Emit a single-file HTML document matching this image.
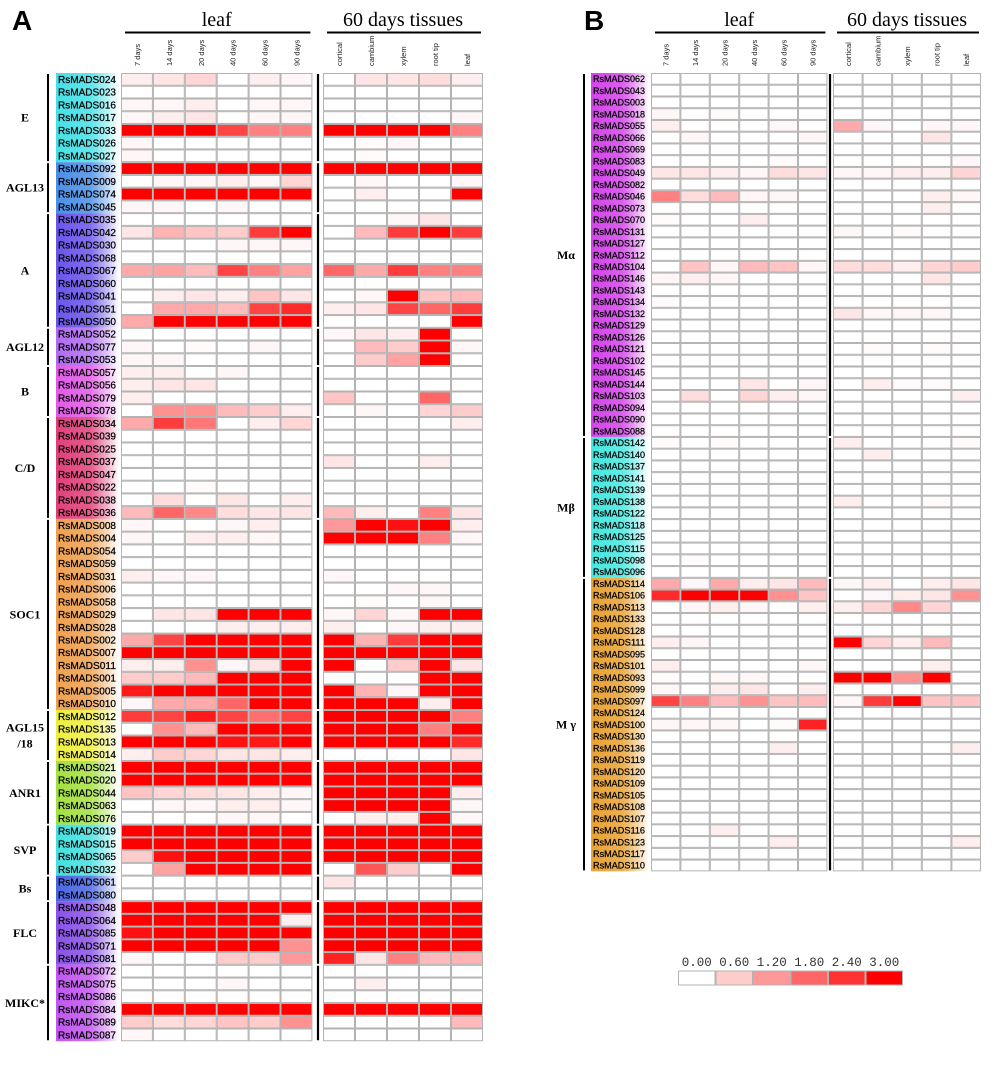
<!DOCTYPE html>
<html><head><meta charset="utf-8"><style>
html,body{margin:0;padding:0;background:#fff;}
svg{display:block;}
</style></head><body>
<svg id="fig" width="1000" height="1070" viewBox="0 0 1000 1070" xmlns="http://www.w3.org/2000/svg">
<rect x="0" y="0" width="1000" height="1070" fill="#fff"/>
<text x="12" y="30" font-family="Liberation Sans, sans-serif" font-weight="bold" font-size="28">A</text>
<text x="584" y="30" font-family="Liberation Sans, sans-serif" font-weight="bold" font-size="28">B</text>
</svg>
<script>
const colsLeaf=['7 days','14 days','20 days','40 days','60 days','90 days'];
const colsTissue=['cortical','cambium','xylem','root tip','leaf'];
const groupsA=[['E',7,'#45e0e6'],['AGL13',4,'#4a8fe6'],['A',9,'#6a55ea'],['AGL12',3,'#b06cf0'],['B',4,'#e05ae6'],['C/D',8,'#e0407a'],['SOC1',15,'#eea050'],['AGL15\n/18',4,'#eeee40'],['ANR1',5,'#a4e040'],['SVP',4,'#44e0e0'],['Bs',2,'#4a66e0'],['FLC',5,'#8a52e6'],['MIKC*',6,'#c256f0']];
const genesA=['RsMADS024','RsMADS023','RsMADS016','RsMADS017','RsMADS033','RsMADS026','RsMADS027','RsMADS092','RsMADS009','RsMADS074','RsMADS045','RsMADS035','RsMADS042','RsMADS030','RsMADS068','RsMADS067','RsMADS060','RsMADS041','RsMADS051','RsMADS050','RsMADS052','RsMADS077','RsMADS053','RsMADS057','RsMADS056','RsMADS079','RsMADS078','RsMADS034','RsMADS039','RsMADS025','RsMADS037','RsMADS047','RsMADS022','RsMADS038','RsMADS036','RsMADS008','RsMADS004','RsMADS054','RsMADS059','RsMADS031','RsMADS006','RsMADS058','RsMADS029','RsMADS028','RsMADS002','RsMADS007','RsMADS011','RsMADS001','RsMADS005','RsMADS010','RsMADS012','RsMADS135','RsMADS013','RsMADS014','RsMADS021','RsMADS020','RsMADS044','RsMADS063','RsMADS076','RsMADS019','RsMADS015','RsMADS065','RsMADS032','RsMADS061','RsMADS080','RsMADS048','RsMADS064','RsMADS085','RsMADS071','RsMADS081','RsMADS072','RsMADS075','RsMADS086','RsMADS084','RsMADS089','RsMADS087'];
const valuesA=[
[.2,.3,.5,0,.2,.1,0,.3,.3,.4,.2],[0,0,0,0,0,0,0,0,0,0,0],[.1,.1,.2,0,.1,.1,0,0,0,0,0],[.1,.2,.3,0,.1,.1,0,0,0,0,.1],
[3,3,3,2.2,1.5,1.5,3,3,3,3,1.5],[.1,0,0,0,0,0,0,.05,.1,0,0],[.1,0,0,0,0,0,0,.05,0,0,0],
[3,3,3,3,3,3,3,3,3,3,3],[0,.1,.1,.2,.1,.5,0,.1,0,0,.1],[3,3,3,3,3,3,0,.2,0,0,3],[.1,.1,0,.1,0,0,0,0,0,0,0],
[0,0,0,0,0,0,0,0,.1,.3,0],[.3,.9,.7,.6,2.3,3,0,.8,2.3,3,2.3],[0,0,0,.1,.1,.1,0,0,0,0,0],[0,0,0,0,0,0,0,0,0,0,0],
[1,1.1,.8,2.2,1.5,1.1,1.8,1,2.3,1.5,1.5],[0,0,0,0,0,0,0,0,0,0,0],[0,.2,.3,.2,.7,.3,0,.1,3,.7,.8],
[0,1,1,.8,2.2,2.5,.2,.3,2.2,1.8,2.3],[1,3,3,3,3,3,0,0,0,0,3],
[0,0,0,0,0,0,.1,.3,.2,3,0],[.1,0,.05,0,.1,0,0,.8,.6,3,.1],[.1,.1,0,0,0,0,0,.6,1.1,3,0],
[.2,.2,0,.1,0,0,0,0,0,0,0],[.2,.3,.3,0,0,0,0,0,0,0,0],[.2,0,0,0,0,0,.7,0,0,1.8,0],[0,1.3,1.3,.8,.6,.2,0,.1,0,.5,.6],
[1,2.3,1.6,0,.2,.5,0,0,0,0,.2],[0,0,0,0,0,0,0,0,0,0,0],[0,0,0,0,0,0,0,0,0,0,0],[0,0,0,0,0,0,.3,0,0,.2,0],
[0,0,0,0,0,0,0,0,0,0,0],[0,0,.05,0,0,0,0,0,0,0,0],[0,.4,0,.3,0,.2,0,0,0,0,0],[.8,1.8,1.4,.4,.3,.3,.8,.2,0,1.5,.3],
[.1,0,0,.1,.2,0,1.2,3,2.8,3,.2],[.1,0,.2,.2,.1,0,3,3,3,1.5,.1],[0,0,0,0,0,0,0,0,0,0,0],[0,0,0,0,0,0,0,0,0,0,0],
[.2,.1,.1,0,0,0,.1,0,0,0,0],[0,0,0,0,0,0,0,0,.1,.1,0],[0,0,0,0,0,0,0,.05,0,.1,0],[0,.3,.3,3,3,3,.1,.5,.1,3,3],
[0,0,0,.2,.2,.2,.2,0,.1,.2,.2],[1,2.2,3,3,3,3,3,.9,2.3,3,3],[3,3,3,3,3,3,3,3,3,3,3],[.2,.2,1.3,.1,.3,3,3,0,.6,3,.3],
[.6,.6,.8,3,3,3,0,0,0,3,3],[2.7,3,3,3,3,3,3,.9,.1,3,3],[.1,1,1,1.8,3,3,3,3,3,.2,3],
[2.3,2.2,2.7,2.2,1.7,2.2,3,3,3,3,1.5],[0,1.3,.8,3,3,3,3,3,3,1.5,3],[3,3,3,2.8,2.7,3,3,3,3,3,2.5],[.2,.6,.5,.3,.3,.2,0,0,0,0,.3],
[3,3,3,3,3,3,3,3,3,3,3],[3,3,3,3,3,3,3,3,3,3,3],[.7,.5,.4,.3,.2,.1,3,3,3,3,.2],[0,.1,.1,.2,.2,.1,3,3,3,3,.1],[0,0,0,.1,.1,0,0,.2,.2,3,.1],
[3,3,3,3,3,3,3,3,3,3,3],[3,3,3,3,3,3,3,3,3,3,3],[.6,2.8,3,3,3,3,3,3,3,3,3],[0,1.1,3,3,3,3,0,2,.6,0,3],
[0,0,0,0,0,0,.3,0,0,0,0],[0,0,0,0,0,0,0,0,0,0,0],
[3,3,3,3,3,3,3,3,3,3,3],[3,3,3,3,3,.2,3,3,3,3,3],[2.8,3,3,3,3,3,3,3,3,3,3],[3,3,3,3,3,1.3,3,3,3,3,3],[.1,0,0,.6,.6,1.2,2.6,.3,1.5,.8,.9],
[0,0,0,0,0,0,0,0,0,0,0],[0,0,0,.1,0,0,0,.2,0,0,0],[0,0,0,0,0,0,0,0,0,0,0],[3,3,3,3,3,3,3,3,3,3,3],[.6,.4,.5,.7,.6,1.3,0,0,0,0,.8],[.1,0,0,0,0,0,0,0,0,0,0]
];
const groupsB=[['Mα',31,'#d444ea'],['Mβ',12,'#44e8e0'],['M γ',25,'#e8a234']];
const genesB=['RsMADS062','RsMADS043','RsMADS003','RsMADS018','RsMADS055','RsMADS066','RsMADS069','RsMADS083','RsMADS049','RsMADS082','RsMADS046','RsMADS073','RsMADS070','RsMADS131','RsMADS127','RsMADS112','RsMADS104','RsMADS146','RsMADS143','RsMADS134','RsMADS132','RsMADS129','RsMADS126','RsMADS121','RsMADS102','RsMADS145','RsMADS144','RsMADS103','RsMADS094','RsMADS090','RsMADS088','RsMADS142','RsMADS140','RsMADS137','RsMADS141','RsMADS139','RsMADS138','RsMADS122','RsMADS118','RsMADS125','RsMADS115','RsMADS098','RsMADS096','RsMADS114','RsMADS106','RsMADS113','RsMADS133','RsMADS128','RsMADS111','RsMADS095','RsMADS101','RsMADS093','RsMADS099','RsMADS097','RsMADS124','RsMADS100','RsMADS130','RsMADS136','RsMADS119','RsMADS120','RsMADS109','RsMADS105','RsMADS108','RsMADS107','RsMADS116','RsMADS123','RsMADS117','RsMADS110'];
const Z=[0,0,0,0,0,0,0,0,0,0,0];
const valuesB=[
Z,Z,Z,[.1,0,.05,0,0,0,0,0,0,0,0],[.2,0,0,0,.1,0,1,.1,0,.1,.1],[0,.1,0,0,0,.1,0,0,0,.3,0],Z,[0,0,0,0,.05,0,0,0,0,0,.1],
[.3,.3,.2,.1,.4,.3,.1,.1,.2,.2,.5],Z,[1.5,.4,.8,.1,.1,0,0,0,0,.2,.1],[0,0,0,0,0,0,0,0,0,.2,0],[.05,0,0,.2,0,0,0,0,0,0,0],
[0,0,0,0,0,0,.1,0,.05,0,0],Z,Z,[0,.7,.1,.8,.7,.1,.4,.4,.2,.5,.6],[.1,.2,.1,0,0,0,0,0,0,.3,0],Z,[.05,0,0,0,0,0,0,0,0,0,0],
[0,0,0,0,0,0,.3,.1,.1,.1,0],Z,Z,[0,0,0,0,0,0,0,.05,0,.05,0],Z,Z,[0,0,0,.3,0,.1,0,.2,.05,.05,0],[0,.4,0,.5,.2,.1,0,0,0,0,.2],Z,Z,Z,
[.05,0,.05,0,0,0,.2,0,0,0,.05],[0,0,0,0,0,0,0,.2,0,0,0],Z,Z,Z,[0,0,0,0,0,0,.2,0,0,.05,0],Z,Z,Z,Z,[0,.05,0,0,0,0,0,0,0,0,0],Z,
[1,.1,1,.2,.3,.8,.1,.2,0,.2,.3],[2.5,3,3,3,1.3,.7,0,.1,.2,.3,1.3],[0,.1,.2,.1,0,.2,.2,.5,1.4,.5,0],Z,Z,[.2,.1,0,0,0,0,3,.5,.2,.8,0],Z,
[.2,0,0,0,0,.1,0,0,0,.2,0],[.05,0,.1,.1,0,0,3,3,1.3,3,0],[.1,0,.2,.3,0,.2,0,0,0,0,0],[2.2,1.5,.8,1.3,.7,.8,.1,2.3,3,.7,.7],Z,
[.1,.1,.1,0,.05,2.6,0,0,0,0,0],Z,[0,0,0,0,.2,0,0,0,0,0,.2],Z,Z,Z,Z,Z,Z,[0,0,.2,0,0,0,0,0,0,0,0],[0,0,0,0,.2,0,0,0,0,0,.2],Z,Z
];
const legendTicks=[0,0.6,1.2,1.8,2.4,3.0];

const NS='http://www.w3.org/2000/svg';
const svg=document.getElementById('fig');
function el(tag,attrs,parent){const e=document.createElementNS(NS,tag);for(const k in attrs)e.setAttribute(k,attrs[k]);(parent||svg).appendChild(e);return e;}
function color(v){const t=Math.max(0,Math.min(1,v/3));const g=Math.round(255*(1-t));return `rgb(255,${g},${g})`;}

function panel(cfg,genes,values,groups,id){
  const g=el('g',{});
  
  
  const yOf=i=>cfg.top+i*cfg.rowH;
  const hdrs=[['leaf',cfg.leafX,cfg.leafW*6,'leaf-header'],['60 days tissues',cfg.tisX,cfg.tisW*5,'tissue-header']];
  hdrs.forEach(h=>{
    const t=el('text',{x:h[1]+h[2]/2,y:26,'text-anchor':'middle','font-family':'Liberation Serif, serif','font-size':20},g);
    t.textContent=h[0];
    
    
    const l=el('line',{x1:h[1]+4,x2:h[1]+h[2]-2,y1:32.5,y2:32.5,stroke:'#000','stroke-width':2},g);
    
    
  });
  const cols=[];
  colsLeaf.forEach((c,j)=>cols.push([c,cfg.leafX+j*cfg.leafW,cfg.leafW]));
  colsTissue.forEach((c,j)=>cols.push([c,cfg.tisX+j*cfg.tisW,cfg.tisW]));
  cols.forEach((c,j)=>{
    const cx=c[1]+c[2]/2+3, cy=66;
    const t=el('text',{x:cx,y:cy,transform:`rotate(-90 ${cx} ${cy})`,'font-family':'Liberation Sans, sans-serif','font-size':7.5,fill:'#222'},g);
    t.textContent=c[0];
    
    
  });
  let start=0;
  groups.forEach((gr,gi)=>{
    const n=gr[1];
    const y0=yOf(start), y1=yOf(start+n);
    const gid='grad-'+id+gi;
    const lg=el('linearGradient',{id:gid,x1:0,x2:1,y1:0,y2:0},g);
    el('stop',{offset:'0','stop-color':gr[2]},lg);
    el('stop',{offset:'0.55','stop-color':gr[2],'stop-opacity':0.85},lg);
    el('stop',{offset:'1','stop-color':'#fff','stop-opacity':1},lg);
    const r=el('rect',{x:cfg.labelX,y:y0,width:cfg.labelW,height:y1-y0,fill:`url(#${gid})`},g);
    
    
    const bl=el('line',{x1:cfg.gLineX,x2:cfg.gLineX,y1:y0+1,y2:y1-1,stroke:'#000','stroke-width':2},g);
    
    
    const dl=el('line',{x1:cfg.divX,x2:cfg.divX,y1:y0+1,y2:y1-1,stroke:'#000','stroke-width':2.2},g);
    
    
    const parts=gr[0].split('\n');
    const mid=(y0+y1)/2+4-(parts.length-1)*8;
    parts.forEach((p,pi)=>{
      const t=el('text',{x:cfg.gLabelX,y:mid+pi*16,'text-anchor':'middle','font-family':'Liberation Serif, serif','font-weight':'bold','font-size':12},g);
      t.textContent=p;
      
      
    });
    start+=n;
  });
  genes.forEach((gn,i)=>{
    const y=yOf(i);
    const t=el('text',{x:cfg.labelX+2,y:y+cfg.rowH*0.78,'font-family':'Liberation Sans, sans-serif','font-size':cfg.fs,fill:'#000',stroke:'#000','stroke-width':0.25,textLength:cfg.tl,lengthAdjust:'spacingAndGlyphs'},g);
    t.textContent=gn;
    
    
    values[i].forEach((v,j)=>{
      const c=cols[j];
      const r=el('rect',{x:c[1]+0.5,y:y+0.5,width:c[2]-1,height:cfg.rowH-1,fill:color(v),stroke:'#b3b3b3','stroke-width':1},g);
      
      
    });
  });
}
panel({top:73,rowH:12.74,labelX:56,labelW:63,leafX:121,leafW:31.9,tisX:323,tisW:32,divX:318,gLineX:48,gLabelX:25,fs:10.5,tl:58},genesA,valuesA,groupsA,'panel-a');
panel({top:73,rowH:11.74,labelX:591,labelW:58,leafX:651,leafW:29.4,tisX:833,tisW:29.6,divX:830,gLineX:584,gLabelX:566,fs:9.5,tl:52},genesB,valuesB,groupsB,'panel-b');

const lg=el('g',{});


const bw=37.5;
legendTicks.forEach((v,k)=>{
  const x=678+k*bw;
  const r=el('rect',{x:x+0.5,y:971,width:bw-1,height:14,fill:color(v),stroke:'#b3b3b3','stroke-width':1},lg);
  
  
  const t=el('text',{x:x+bw/2,y:966,'text-anchor':'middle','font-family':'Liberation Mono, monospace','font-size':12.5,fill:'#333'},lg);
  t.textContent=v.toFixed(2);
  
  
});
</script>
</body></html>
